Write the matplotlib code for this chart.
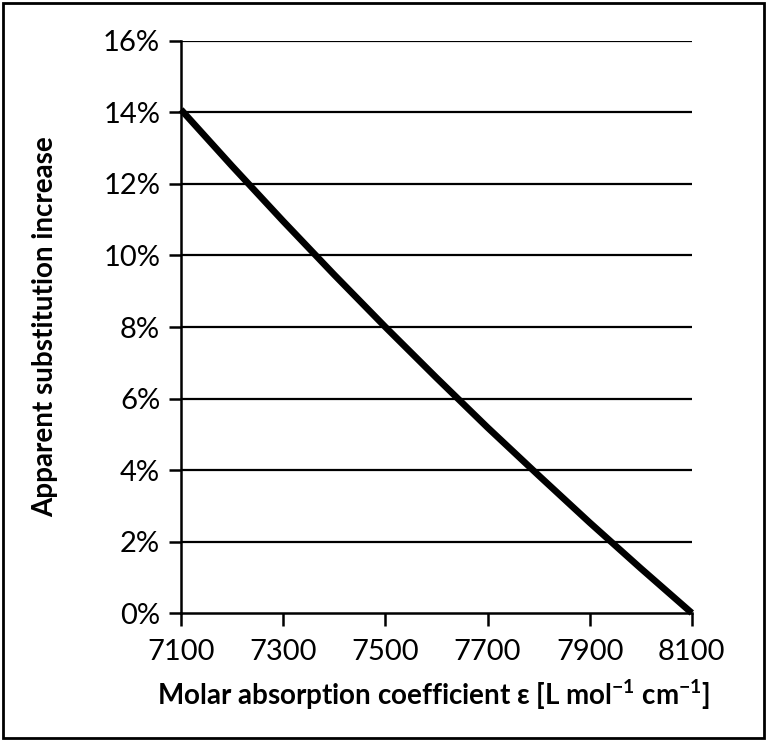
import matplotlib
matplotlib.use("Agg")
import matplotlib.pyplot as plt
from matplotlib.ticker import FuncFormatter
from matplotlib.patches import Rectangle

plt.rcParams['font.family'] = ['Lato', 'DejaVu Sans']
plt.rcParams['mathtext.fontset'] = 'custom'
plt.rcParams['mathtext.rm'] = 'Lato:bold'
plt.rcParams['mathtext.bf'] = 'Lato:bold'
plt.rcParams['mathtext.default'] = 'rm'

# data
epsilon = [7100, 7200, 7300, 7400, 7500, 7600, 7700, 7800, 7900, 8000, 8100]
increase = [0.1408, 0.1250, 0.1096, 0.0946, 0.0800, 0.0658, 0.0519, 0.0385, 0.0253, 0.0125, 0.0]
xticks = [7100, 7300, 7500, 7700, 7900, 8100]
yticks = [0.0, 0.02, 0.04, 0.06, 0.08, 0.10, 0.12, 0.14, 0.16]

fig = plt.figure(figsize=(7.67, 7.41), dpi=100)
ax = fig.add_axes([0.236, 0.1727, 0.666, 0.772])

for y in yticks[1:]:
    ax.axhline(y, color='black', lw=1.6, zorder=1)

ax.plot(epsilon, increase, color='black', lw=4.8, solid_capstyle='butt', clip_on=False, zorder=3)

ax.set_xlim(7100, 8100)
ax.set_ylim(0, 0.16)
ax.set_xticks(xticks)
ax.set_yticks(yticks)
ax.yaxis.set_major_formatter(FuncFormatter(lambda v, p: f"{v*100:.0f}%"))

for s in ['top', 'right']:
    ax.spines[s].set_visible(False)
for s in ['left', 'bottom']:
    ax.spines[s].set_linewidth(1.8)
    ax.spines[s].set_zorder(2)

ax.tick_params(axis='both', direction='out', length=9, width=1.8, labelsize=21, colors='black')
ax.tick_params(axis='y', pad=6)
ax.tick_params(axis='x', pad=10)

fig.text(45/767, 1 - 327/741, 'Apparent substitution increase', rotation=90,
         ha='center', va='center', fontsize=20, fontweight='bold')
fig.text(434/767, 1 - 705/741, r'Molar absorption coefficient ε [L mol$^{-1}$ cm$^{-1}$]',
         ha='center', va='baseline', fontsize=20, fontweight='bold')

fig.patches.append(Rectangle((3/767, 3/741), 1 - 6/767, 1 - 6/741, transform=fig.transFigure,
                             fill=False, edgecolor='black', lw=2))

fig.savefig('out.png', dpi=100)
